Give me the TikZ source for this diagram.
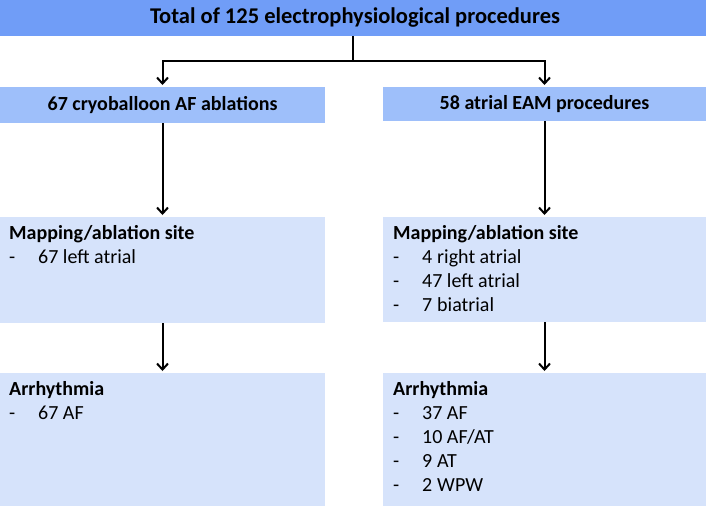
\documentclass[tikz,border=0pt]{standalone}
\usepackage{fontspec}
\setmainfont{Carlito}
\usetikzlibrary{arrows.meta}
\definecolor{topblue}{RGB}{112,157,247}
\definecolor{midblue}{RGB}{158,191,250}
\definecolor{lightblue}{RGB}{214,227,251}
\tikzset{
  box/.style={draw=none, inner sep=0pt, outer sep=0pt, anchor=north west},
  conn/.style={line width=2pt, -{Straight Barb[length=6pt,width=11pt]}, shorten >=2pt},
  plain/.style={line width=2pt},
  txt/.style={inner sep=0pt, anchor=base west, font=\fontsize{20}{24}\selectfont},
}
\newcommand{\itemtab}[2]{\begin{tabular}[t]{@{}p{29pt}@{}l@{}}\multicolumn{2}{@{}l@{}}{\textbf{#1}}\\#2\end{tabular}}
\begin{document}
\begin{tikzpicture}[x=1pt,y=-1pt]
\useasboundingbox (0,0) rectangle (706,506);
% boxes
\node[box, fill=topblue, minimum width=706pt, minimum height=36pt] (top) at (0,0) {};
\node[box, fill=midblue, minimum width=325pt, minimum height=36pt] (L1) at (0,87) {};
\node[box, fill=midblue, minimum width=323pt, minimum height=34pt] (R1) at (383,87) {};
\node[box, fill=lightblue, minimum width=325pt, minimum height=106pt] (L2) at (0,217) {};
\node[box, fill=lightblue, minimum width=323pt, minimum height=105pt] (R2) at (383,217) {};
\node[box, fill=lightblue, minimum width=325pt, minimum height=133pt] (L3) at (0,373) {};
\node[box, fill=lightblue, minimum width=323pt, minimum height=133pt] (R3) at (383,373) {};
% texts
\node[inner sep=0pt, font=\fontsize{22.5}{24}\selectfont\bfseries] (ttop) at ([xshift=2pt]top.center) {Total of 125 electrophysiological procedures};
\node[inner sep=0pt, font=\fontsize{20}{24}\selectfont\bfseries] (tL1) at (L1.center) {67 cryoballoon AF ablations};
\node[inner sep=0pt, font=\fontsize{20}{24}\selectfont\bfseries] (tR1) at (R1.center) {58 atrial EAM procedures};
\node[txt] (tL2) at (9,239) {\itemtab{Mapping/ablation site}{-&67 left atrial}};
\node[txt] (tR2) at (393,239) {\itemtab{Mapping/ablation site}{-&\makebox[15pt][l]{4}right atrial\\-&47 left atrial\\-&\makebox[15pt][l]{7}biatrial}};
\node[txt] (tL3) at (9,395) {\itemtab{Arrhythmia}{-&67 AF}};
\node[txt] (tR3) at (393,395) {\itemtab{Arrhythmia}{-&37 AF\\-&10 AF/AT\\-&\makebox[15pt][l]{9}AT\\-&\makebox[15pt][l]{2}WPW}};
% connectors
\coordinate (j) at (353,61);
\draw[plain] (top.south -| j) -- (j);
\draw[conn] (j) -| (L1.north);
\draw[conn] (j) -| (R1.north);
\draw[conn] (L1.south) -- (L2.north);
\draw[conn] (R1.south) -- (R2.north);
\draw[conn] (L2.south) -- (L3.north);
\draw[conn] (R2.south) -- (R3.north);
\end{tikzpicture}
\end{document}
